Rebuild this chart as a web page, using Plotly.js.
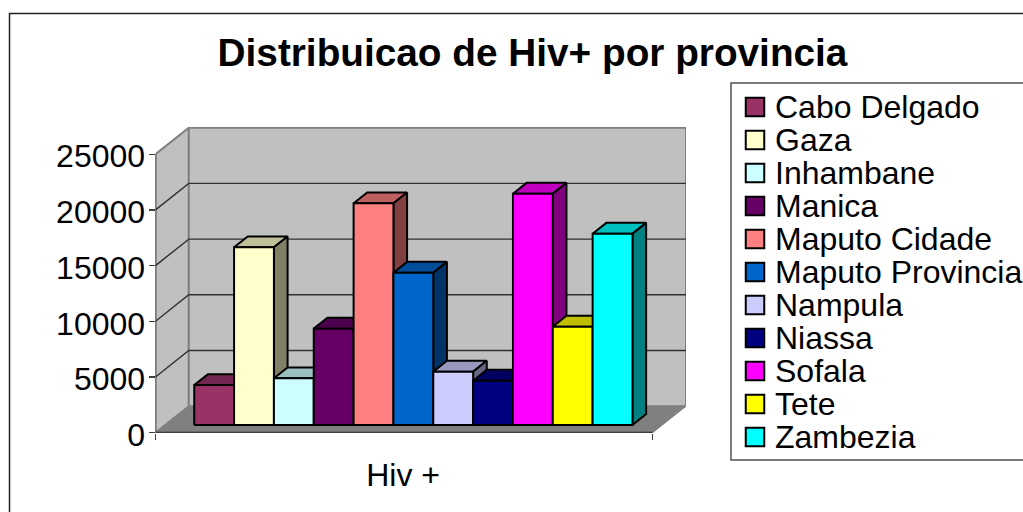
<!DOCTYPE html>
<html>
<head>
<meta charset="utf-8">
<script src="https://cdn.plot.ly/plotly-3.0.1.min.js"></script>
<style>html,body{margin:0;padding:0;background:#fff}#chart{width:1023px;height:512px}</style>
</head>
<body>
<div id="chart"></div>
<script>
const titleText = 'Distribuicao de Hiv+ por provincia';
const groupLabel = 'Hiv +';
const provinces = ['Cabo Delgado','Gaza','Inhambane','Manica','Maputo Cidade','Maputo Provincia','Nampula','Niassa','Sofala','Tete','Zambezia'];
const hivCounts = [3590,15950,4190,8650,19900,13670,4790,3980,20760,8830,17170];
const frontColors = ['#993366','#FFFFCC','#CCFFFF','#660066','#FF8080','#0066CC','#CCCCFF','#000080','#FF00FF','#FFFF00','#00FFFF'];
const topColors = ['#732650','#BFBF99','#99BFBF','#4D004D','#BF6060','#004D99','#9999BF','#000060','#BF00BF','#BFBF00','#00BFBF'];
const sideColors = ['#4D1A33','#808066','#668080','#330033','#804040','#003366','#666680','#000040','#800080','#808000','#008080'];
const yTicks = [0,5000,10000,15000,20000,25000];

const W = 1023, H = 512;
const pxLeft = 155.5, pxRight = 686, pxBase = 432.7, pxTop = 127;
const pxPerValue = 55.7 / 5000;
const xStart = -0.73, xEnd = 11.75;
const depthX = 0.836, depthY = 2380;
const barNear = 0.29, barFar = 0.70;
const yTop = 25000;
const FONT = 'Liberation Sans, Arial, sans-serif';

const px = (x, v, d) => [x + d * depthX, v + d * depthY];
function poly(points, fill, line, width, name) {
  const xs = [], ys = [];
  points.forEach(p => { const q = px(p[0], p[1], p[2]); xs.push(q[0]); ys.push(q[1]); });
  xs.push(xs[0]); ys.push(ys[0]);
  return {type:'scatter', mode:'lines', x:xs, y:ys, fill:'toself', fillcolor:fill,
    line:{color:line, width:width, simplify:false}, cliponaxis:false, hoverinfo:'skip', showlegend:false, name:name||''};
}
function seg(points, color, width) {
  const xs = [], ys = [];
  points.forEach(p => { const q = px(p[0], p[1], p[2]); xs.push(q[0]); ys.push(q[1]); });
  return {type:'scatter', mode:'lines', x:xs, y:ys, line:{color:color, width:width}, cliponaxis:false, hoverinfo:'skip', showlegend:false};
}

const traces = [];
// walls and floor
traces.push(poly([[xStart,0,0],[xStart,yTop,0],[xStart,yTop,1],[xStart,0,1]], '#C0C0C0', '#808080', 2));
traces.push(poly([[xStart,0,1],[xStart,yTop,1],[xEnd,yTop,1],[xEnd,0,1]], '#C0C0C0', '#808080', 2));
traces.push(poly([[xStart,0,0],[xStart,0,1],[xEnd,0,1],[xEnd,0,0]], '#808080', '#808080', 1));
// gridlines
yTicks.slice(1,-1).forEach(v => {
  traces.push(seg([[xStart,v,0],[xStart,v,1],[xEnd,v,1]], '#303030', 1.4));
});
// front axis lines
traces.push(seg([[xStart,0,0],[xEnd,0,0]], '#202020', 2));
traces.push(seg([[xStart,0,0],[xStart,yTop,0]], '#404040', 1.4));

// bars, painted left to right
provinces.forEach((name, i) => {
  const v = hivCounts[i], a = i, b = i + 1;
  traces.push(poly([[a,v,barNear],[a,v,barFar],[b,v,barFar],[b,v,barNear]], topColors[i], '#000', 2, name + ' top'));
  traces.push(poly([[b,0,barNear],[b,v,barNear],[b,v,barFar],[b,0,barFar]], sideColors[i], '#000', 2, name + ' side'));
  traces.push(poly([[a,0,barNear],[a,v,barNear],[b,v,barNear],[b,0,barNear]], frontColors[i], '#000', 2, name));
});

// legend drawn on a pixel-scaled overlay
const swatchRow = provinces.map((_, i) => 107 + 33 * i);
const labelRow = provinces.map((_, i) => 109.5 + 33 * i);
traces.push({type:'scatter', mode:'markers', xaxis:'x2', yaxis:'y2', x:provinces.map(()=>755), y:swatchRow,
  marker:{symbol:'square', size:18.5, color:frontColors, line:{color:'#000', width:2}}, hoverinfo:'skip', showlegend:false, cliponaxis:false});
traces.push({type:'scatter', mode:'text', xaxis:'x2', yaxis:'y2', x:provinces.map(()=>775), y:labelRow, text:provinces,
  textposition:'middle right', textfont:{family:FONT, size:32, color:'#000'}, hoverinfo:'skip', showlegend:false, cliponaxis:false});

const layout = {
  width:W, height:H, paper_bgcolor:'#fff', plot_bgcolor:'rgba(0,0,0,0)', showlegend:false,
  margin:{l:0,r:0,t:0,b:0},
  title:{text:titleText, font:{family:FONT, size:38.75, color:'#000', weight:700}, x:532.5/W, xanchor:'center', y:1-52/H, yanchor:'middle', xref:'paper'},
  xaxis:{domain:[pxLeft/W, pxRight/W], range:[xStart, xEnd+depthX], showgrid:false, zeroline:false, showline:false,
    tickmode:'array', tickvals:[(xStart+xEnd)/2], ticktext:[groupLabel], ticks:'', ticklen:0, ticklabelstandoff:20,
    tickfont:{family:FONT, size:32, color:'#000'}, ticklabelshift:-1,
    minor:{tickmode:'array', tickvals:[xStart,xEnd], ticks:'outside', ticklen:6, tickcolor:'#404040', tickwidth:1.4, showgrid:false}},
  yaxis:{domain:[1-pxBase/H, 1-pxTop/H], range:[0,(pxBase-pxTop)/pxPerValue], showgrid:false, zeroline:false, showline:false,
    tickmode:'array', tickvals:yTicks, ticktext:yTicks.map(String), ticks:'outside', ticklen:6, tickcolor:'#404040', tickwidth:1.4,
    tickfont:{family:FONT, size:32, color:'#000'}, ticklabelstandoff:-3, ticklabelshift:2},
  xaxis2:{domain:[0,1], range:[0,W], visible:false, anchor:'y2'},
  yaxis2:{domain:[0,1], range:[H,0], visible:false, anchor:'x2'},
  shapes:[
    {type:'rect', xref:'paper', yref:'paper', x0:731/W, x1:1.01, y0:1-460/H, y1:1-83/H, line:{color:'#505050', width:1.5}, fillcolor:'#fff', layer:'below'},
    {type:'path', xref:'paper', yref:'paper', path:`M${9.5/W},-0.01 L${9.5/W},${1-13.5/H} L1.01,${1-13.5/H}`, line:{color:'#202020', width:1.5}, layer:'below'}
  ]
};
Plotly.newPlot('chart', traces, layout, {displayModeBar:false, staticPlot:true});
</script>
</body>
</html>
